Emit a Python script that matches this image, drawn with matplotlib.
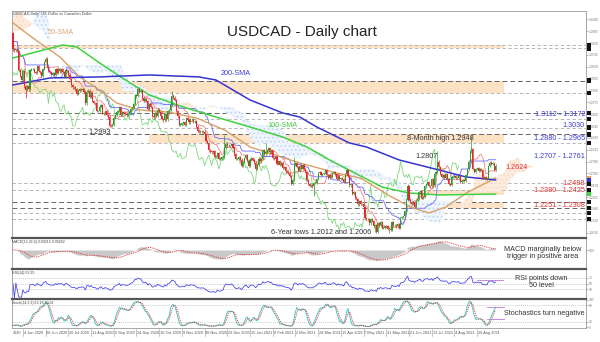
import numpy as np
import pandas as pd
import matplotlib
matplotlib.use("Agg")
import matplotlib.pyplot as plt
import matplotlib.transforms as mtransforms
from matplotlib.patches import Rectangle

plt.rcParams['font.family'] = ['Liberation Sans', 'DejaVu Sans']
plt.rcParams['hatch.linewidth'] = 0.35

# ---------------------------------------------------------------------------
# USDCAD daily closes, 26 May 2020 .. 14 Sep 2021 (one value per bar)
# ---------------------------------------------------------------------------
closes = [
    1.3790, 1.3780, 1.3790, 1.3775,
    1.3590, 1.3530, 1.3490, 1.3580, 1.3430,
    1.3395, 1.3430, 1.3400, 1.3590, 1.3600,
    1.3600, 1.3570, 1.3560, 1.3630, 1.3580,
    1.3565, 1.3530, 1.3600, 1.3665, 1.3700,
    1.3620, 1.3580, 1.3570, 1.3540, 1.3560,
    1.3540, 1.3600, 1.3560, 1.3600, 1.3575,
    1.3600, 1.3570, 1.3520, 1.3590, 1.3580,
    1.3545, 1.3500, 1.3440, 1.3420, 1.3420,
    1.3400, 1.3360, 1.3390, 1.3400, 1.3395,
    1.3405, 1.3380, 1.3265, 1.3380, 1.3390,
    1.3330, 1.3370, 1.3290, 1.3270, 1.3265,
    1.3190, 1.3190, 1.3230, 1.3250, 1.3170,
    1.3160, 1.3190, 1.3150, 1.3130, 1.3050,
    1.3045, 1.3060, 1.3125, 1.3150, 1.3180,
    1.3190, 1.3230, 1.3150, 1.3180, 1.3175,
    1.3165, 1.3150, 1.3165, 1.3175, 1.3210,
    1.3220, 1.3260, 1.3345, 1.3340, 1.3400,
    1.3380, 1.3390, 1.3320, 1.3290, 1.3305,
    1.3290, 1.3215, 1.3260, 1.3230, 1.3140,
    1.3130, 1.3170, 1.3145, 1.3205, 1.3180,
    1.3140, 1.3115, 1.3100, 1.3160, 1.3110,
    1.3190, 1.3200, 1.3250, 1.3340, 1.3320,
    1.3300, 1.3190, 1.3140, 1.3060, 1.3060,
    1.3070, 1.3080, 1.3055, 1.3120, 1.3105,
    1.3080, 1.3110, 1.3110, 1.3090, 1.3090,
    1.3040, 1.3000, 1.2990, 1.2990, 1.2985,
    1.2990, 1.2965, 1.2900, 1.2880, 1.2810,
    1.2800, 1.2790, 1.2800, 1.2745, 1.2750,
    1.2780, 1.2730, 1.2730, 1.2740, 1.2750,
    1.2830, 1.2875, 1.2855, 1.2850, 1.2850,
    1.2870, 1.2835, 1.2770, 1.2725, 1.2725,
    1.2740, 1.2720, 1.2660, 1.2700, 1.2735,
    1.2765, 1.2710, 1.2660, 1.2720, 1.2735,
    1.2720, 1.2690, 1.2630, 1.2670, 1.2730,
    1.2710, 1.2730, 1.2810, 1.2770, 1.2790,
    1.2810, 1.2830, 1.2790, 1.2810, 1.2735,
    1.2725, 1.2740, 1.2680, 1.2705, 1.2665,
    1.2690, 1.2640, 1.2650, 1.2605, 1.2600,
    1.2590, 1.2560, 1.2480, 1.2525, 1.2670,
    1.2685, 1.2650, 1.2610, 1.2660, 1.2630,
    1.2665, 1.2630, 1.2600, 1.2520, 1.2480,
    1.2465, 1.2470, 1.2460, 1.2490, 1.2495,
    1.2530, 1.2590, 1.2600, 1.2570, 1.2580,
    1.2590, 1.2620, 1.2570, 1.2545, 1.2570,
    1.2550, 1.2590, 1.2600, 1.2575, 1.2530,
    1.2565, 1.2530, 1.2540, 1.2530, 1.2500,
    1.2580, 1.2620, 1.2560, 1.2470, 1.2480,
    1.2390, 1.2400, 1.2350, 1.2335, 1.2285,
    1.2320, 1.2290, 1.2290, 1.2255, 1.2150,
    1.2140, 1.2140, 1.2100, 1.2140, 1.2125,
    1.2070, 1.2080, 1.2020, 1.2100, 1.2080,
    1.2110, 1.2060, 1.2060, 1.2075, 1.2070,
    1.2050, 1.2050, 1.2040, 1.2110, 1.2080,
    1.2080, 1.2070, 1.2095, 1.2060, 1.2150,
    1.2160, 1.2170, 1.2220, 1.2330, 1.2465,
    1.2330, 1.2310, 1.2290, 1.2310, 1.2260,
    1.2320, 1.2340, 1.2400, 1.2415, 1.2350,
    1.2360, 1.2460, 1.2480, 1.2500, 1.2465,
    1.2460, 1.2530, 1.2470, 1.2580, 1.2600,
    1.2700, 1.2645, 1.2580, 1.2550, 1.2570,
    1.2545, 1.2580, 1.2530, 1.2480, 1.2475,
    1.2550, 1.2550, 1.2560, 1.2540, 1.2545,
    1.2560, 1.2500, 1.2510, 1.2520, 1.2515,
    1.2570, 1.2630, 1.2700, 1.2800, 1.2820,
    1.2630, 1.2600, 1.2630, 1.2640, 1.2610,
    1.2630, 1.2620, 1.2540, 1.2550, 1.2530,
    1.2540, 1.2655, 1.2690, 1.2680, 1.2680,
    1.2620, 1.2660,
]
first_open = 1.3950
spike_highs = {23: 1.3715, 88: 1.3420, 112: 1.3390, 149: 1.2956, 178: 1.2880,
               198: 1.2740, 278: 1.2487, 299: 1.2807, 323: 1.2948}
spike_lows = {9: 1.3315, 70: 1.3037, 212: 1.2365, 255: 1.2013, 265: 1.2007}

# moving averages (bar index, price)
sma50_bar = [0, 14, 33, 47, 61, 73, 89, 110, 130, 150, 167, 202, 228, 245, 265, 280, 293, 305, 320, 340]
sma50_val = [1.4046, 1.3900, 1.3716, 1.3522, 1.3395, 1.3269, 1.3201, 1.3180, 1.3120, 1.3000,
             1.2842, 1.2687, 1.2589, 1.2540, 1.2370, 1.2260, 1.2201, 1.2260, 1.2400, 1.2541]
sma100_bar = [0, 35, 45, 61, 77, 96, 120, 143, 167, 190, 207, 223, 260, 279, 300, 340]
sma100_val = [1.3706, 1.3832, 1.3813, 1.3658, 1.3512, 1.3347, 1.3230, 1.3133, 1.3036, 1.2939,
              1.2842, 1.2716, 1.2453, 1.2395, 1.2376, 1.2385]
sma200_bar = [0, 26, 61, 96, 131, 143, 167, 190, 202, 214, 237, 249, 272, 300, 319, 340]
sma200_val = [1.3444, 1.3512, 1.3522, 1.3541, 1.3522, 1.3492, 1.3298, 1.3172, 1.3133, 1.3036,
              1.2881, 1.2842, 1.2716, 1.2619, 1.2551, 1.2522]

# Ichimoku cloud for the first 26 bars (comes from data before the chart)
early_span_a = [1.4140, 1.4140, 1.4140, 1.4140, 1.4140, 1.4140, 1.4140, 1.4120, 1.4100, 1.4090,
                1.4080, 1.4070, 1.4060, 1.4050, 1.4040, 1.4030, 1.4020, 1.4010, 1.4000, 1.3990,
                1.3980, 1.3960, 1.3940, 1.3920, 1.3900, 1.3880]
early_span_b = [1.3960, 1.3960, 1.3965, 1.3970, 1.3975, 1.3975, 1.3980, 1.3985, 1.3990, 1.3990,
                1.3995, 1.4000, 1.4010, 1.4030, 1.4060, 1.4100, 1.4140, 1.4170, 1.4180, 1.4180,
                1.4175, 1.4165, 1.4150, 1.4130, 1.4110, 1.4085]

# horizontal levels
levels_dark = [1.3485, 1.3172, 1.2965, 1.2308, 1.2251]
levels_light = [1.3830, 1.3800, 1.3365, 1.3112, 1.3030, 1.2880, 1.2488, 1.2425, 1.2201, 1.2143]
zones = [(1.3800, 1.3830, 0), (1.3365, 1.3485, 0), (1.2880, 1.2965, 96),
         (1.2380, 1.2425, 291), (1.2251, 1.2308, 279)]
zone_end = 346

resist_labels = ["1.3112 - 1.3172", "1.3030", "1.2880 - 1.2965", "1.2707 - 1.2761"]
resist_y = [1.3153, 1.3055, 1.2920, 1.2745]
support_labels = ["1.2488", "1.2380 - 1.2425", "1.2251 - 1.2308"]
support_y = [1.2483, 1.2415, 1.2269]

# short trend marks drawn on the oscillators (bar range, level)
rsi_mark = ([327, 345], 62)
stoch_marks = [([334, 346], 74), ([334, 346], 30)]

date_labels = ['4 Jun 2020', '26 Jun 2020', '20 Jul 2020', '11 Aug 2020', '2 Sep 2020',
               '24 Sep 2020', '16 Oct 2020', '9 Nov 2020', '30 Nov 2020', '22 Dec 2020',
               '15 Jan 2021', '8 Feb 2021', '2 Mar 2021', '24 Mar 2021', '15 Apr 2021',
               '7 May 2021', '31 May 2021', '21 Jun 2021', '13 Jul 2021', '4 Aug 2021',
               '26 Aug 2021']

# ---------------------------------------------------------------------------
c = np.array(closes)
n = len(c)
x = np.arange(n)
o = np.r_[first_open, c[:-1]]
hi = np.maximum(o, c) + 0.0012
lo = np.minimum(o, c) - 0.0012
for k, v in spike_highs.items():
    hi[k] = v
for k, v in spike_lows.items():
    lo[k] = v

H = pd.Series(hi)
L = pd.Series(lo)
C = pd.Series(c)
tenkan = (H.rolling(9, min_periods=1).max() + L.rolling(9, min_periods=1).min()) / 2
kijun = (H.rolling(26, min_periods=1).max() + L.rolling(26, min_periods=1).min()) / 2
span_a = np.r_[early_span_a, ((tenkan + kijun) / 2).values]
span_b = np.r_[early_span_b, ((H.rolling(52, min_periods=1).max() + L.rolling(52, min_periods=1).min()) / 2).values]
xc = np.arange(len(span_a))

ema12 = C.ewm(span=12, adjust=False).mean()
ema26 = C.ewm(span=26, adjust=False).mean()
macd = ema12 - ema26
signal = macd.rolling(9, min_periods=1).mean()

delta = C.diff().fillna(0)
gain = delta.clip(lower=0).ewm(alpha=1 / 14, adjust=False).mean()
loss = (-delta.clip(upper=0)).ewm(alpha=1 / 14, adjust=False).mean()
rsi = 100 - 100 / (1 + gain / loss.replace(0, np.nan))
rsi = rsi.fillna(50)

ll = L.rolling(14, min_periods=1).min()
hh = H.rolling(14, min_periods=1).max()
stoch_k = 100 * (C - ll).rolling(3, min_periods=1).sum() / (hh - ll).rolling(3, min_periods=1).sum()
stoch_d = stoch_k.rolling(3, min_periods=1).mean()

# ---------------------------------------------------------------------------
RED, GREEN = '#e8262a', '#2a9e2a'
BLUE_T, RED_T = '#3b3bd8', '#e03030'
PURPLE = '#b77ad6'
XLIM = (-0.7, 403.7)

fig = plt.figure(figsize=(6, 3.42), dpi=100)
ax = fig.add_axes([0.02, 0.30702, 0.95667, 0.66082])
ax_macd = fig.add_axes([0.02, 0.21637, 0.95667, 0.08772])
ax_rsi = fig.add_axes([0.02, 0.12865, 0.95667, 0.08480])
ax_st = fig.add_axes([0.02, 0.04094, 0.95667, 0.08480])

for a in (ax, ax_macd, ax_rsi, ax_st):
    a.set_xlim(*XLIM)
    a.set_xticks([])
    a.yaxis.tick_right()
    a.tick_params(axis='y', labelsize=2.3, length=1.2, width=0.4, pad=0.8, colors='#777')
    for s in a.spines.values():
        s.set_color('#999')
        s.set_linewidth(0.6)
for a in (ax_macd, ax_rsi, ax_st):
    a.spines['top'].set_color('#555')
    a.spines['top'].set_linewidth(1.6)

# --- main panel ---
ax.set_ylim(1.1968, 1.4162)
ax.set_yticks(np.arange(1.2010, 1.4162, 0.0115))
ax.yaxis.set_major_formatter(matplotlib.ticker.FormatStrFormatter('%.4f'))

for lo_z, hi_z, start in zones:
    ax.add_patch(Rectangle((start, lo_z), zone_end - start, hi_z - lo_z,
                           fc='#fde2c6', ec='none', zorder=0.5))
for lv in levels_dark:
    ax.axhline(lv, color='#666', lw=0.7, ls=(0, (5, 3)), zorder=0.8)
for lv in levels_light:
    ax.axhline(lv, color='#aaa', lw=0.6, ls=(0, (4, 3)), zorder=0.8)

# cloud: blue dotted when span B is on top, peach when span A is on top
bear = span_a < span_b
ax.fill_between(xc, span_a, span_b, where=bear, interpolate=True, fc='#eef4fd',
                ec='#a8c4ee', hatch='....', lw=0, zorder=1)
ax.fill_between(xc, span_a, span_b, where=~bear, interpolate=True, fc='#fcebdc',
                ec='#f3d3b6', hatch='....', lw=0, zorder=1)

# chikou, tenkan, kijun
ax.plot(x[:-26], c[26:], color='#7fd87f', lw=0.6, zorder=2)
ax.plot(x, tenkan, color='#f28080', lw=0.6, zorder=2)
ax.plot(x, kijun, color='#6a6aff', lw=0.6, zorder=2)

# SMAs
ax.plot(sma50_bar, sma50_val, color='#d9a066', lw=1.0, zorder=3)
ax.plot(sma100_bar, sma100_val, color='#3fd23f', lw=1.1, zorder=3)
ax.plot(sma200_bar, sma200_val, color='#3434d0', lw=1.1, zorder=3)

# candles
cols = np.where(c >= o, GREEN, RED)
ax.vlines(x, lo, hi, colors=cols, lw=0.5, zorder=4)
body = np.maximum(np.abs(c - o), 0.0003)
ax.bar(x, body, bottom=np.minimum(o, c), width=0.75, color=cols, lw=0, zorder=4)

# texts
ax.text(0, 1.4135, 'USDCAD,Daily  US Dollar vs Canadian Dollar', fontsize=2.8, color='#444',
        va='center', ha='left')
fig.text(0.503, 0.906, 'USDCAD - Daily chart', fontsize=11, color='#222', ha='center', va='center')
ax.text(34, 1.3949, '50-SMA', fontsize=5.2, color='#e0a472', ha='center', va='center', zorder=6)
ax.text(157, 1.3560, '200-SMA', fontsize=5.2, color='#3c3cd8', ha='center', va='center', zorder=6)
ax.text(190, 1.3055, '100-SMA', fontsize=5.2, color='#3fcf3f', ha='center', va='center', zorder=6)
ax.text(61, 1.2978, '1.2993', fontsize=5.2, color='#333', ha='center', va='center', zorder=6)
ax.text(301, 1.2920, '8-Month high 1.2948', fontsize=5.2, color='#333', ha='center', va='center', zorder=6)
ax.text(291, 1.2754, '1.2807', fontsize=5.2, color='#333', ha='center', va='center', zorder=6)
ax.text(217, 1.2016, '6-Year lows 1.2012 and 1.2006', fontsize=5.2, color='#333',
        ha='center', va='center', zorder=6)
for t, yv in zip(resist_labels, resist_y):
    ax.text(403, yv, t, fontsize=5.2, color=BLUE_T, ha='right', va='center', zorder=6)
for t, yv in zip(support_labels, support_y):
    ax.text(403, yv, t, fontsize=5.2, color=RED_T, ha='right', va='center', zorder=6)
ax.text(347, 1.2638, '1.2624', fontsize=5.2, color=RED_T, ha='left', va='center', zorder=6)

# price tags on the right axis
tr = mtransforms.blended_transform_factory(ax.transAxes, ax.transData)
for lv in levels_dark + levels_light:
    ax.add_patch(Rectangle((1.001, lv - 0.0022), 0.008, 0.0044, transform=tr,
                           fc='#111', ec='none', clip_on=False, zorder=7))
for lv, col in ((sma50_val[-1], '#e8a060'), (sma200_val[-1], '#3434d0'), (sma100_val[-1], '#3fd23f')):
    ax.add_patch(Rectangle((1.001, lv - 0.0022), 0.008, 0.0044, transform=tr,
                           fc=col, ec='none', clip_on=False, zorder=7))

# --- MACD ---
mmax = float(macd.max())
ax_macd.set_ylim(-1.5 * mmax * 1.3, mmax * 1.3)
ax_macd.fill_between(x, 0, macd, color='#c8c8c8', lw=0, step='mid')
ax_macd.plot(x, signal, color='#e03030', lw=0.6, ls=(0, (1.5, 1.2)))
ax_macd.set_yticks([0])
ax_macd.set_yticklabels(['0.00'])
ax_macd.text(0, 0.92, 'MACD(12,26,9) 0.00215 0.00262', transform=ax_macd.transAxes,
             fontsize=2.6, color='#444', va='top')
ax_macd.text(0.925, 0.5, 'MACD marginally below\ntrigger in positive area', transform=ax_macd.transAxes,
             fontsize=5.2, color='#333', ha='center', va='center', linespacing=1.1)

# --- RSI ---
ax_rsi.set_ylim(0, 100)
for lv in (30, 50, 70):
    ax_rsi.axhline(lv, color='#bbb', lw=0.5, ls=(0, (1.5, 1.5)))
ax_rsi.plot(x, rsi, color='#4b4bea', lw=0.6)
ax_rsi.plot(rsi_mark[0], [rsi_mark[1]] * 2, color=PURPLE, lw=0.6)
ax_rsi.set_yticks([30, 50, 70])
ax_rsi.text(0, 0.93, 'RSI(14) 53.25', transform=ax_rsi.transAxes, fontsize=2.6, color='#444', va='top')
ax_rsi.text(0.922, 0.55, 'RSI points down\n50 level', transform=ax_rsi.transAxes,
            fontsize=5.2, color='#333', ha='center', va='center', linespacing=1.1)

# --- Stochastics ---
ax_st.set_ylim(-3, 103)
for lv in (20, 80):
    ax_st.axhline(lv, color='#bbb', lw=0.5, ls=(0, (1.5, 1.5)))
ax_st.plot(x, stoch_k, color='#46c8c8', lw=0.7)
ax_st.plot(x, stoch_d, color='#e03030', lw=0.6, ls=(0, (1.5, 1.2)))
for xs, lv in stoch_marks:
    ax_st.plot(xs, [lv, lv], color=PURPLE, lw=0.6)
ax_st.set_yticks([0, 20, 80, 100])
ax_st.text(0, 0.93, 'Stoch(14,3,3) 63.18 70.92', transform=ax_st.transAxes, fontsize=2.6,
           color='#444', va='top')
ax_st.text(0.927, 0.5, 'Stochastics turn negative', transform=ax_st.transAxes,
           fontsize=5.2, color='#333', ha='center', va='center')

# date axis
trd = mtransforms.blended_transform_factory(ax_st.transData, ax_st.transAxes)
ax_st.text(0.2, -0.18, '2020', transform=trd, fontsize=2.8, color='#555', va='center')
for k, lab in enumerate(date_labels):
    b = 7 + 16 * k
    ax_st.plot([b, b], [-0.05, -0.28], transform=trd, color='#999', lw=0.4, clip_on=False)
    ax_st.text(b + 0.6, -0.18, lab, transform=trd, fontsize=2.8, color='#555', va='center')

fig.savefig('out.png', dpi=100)
